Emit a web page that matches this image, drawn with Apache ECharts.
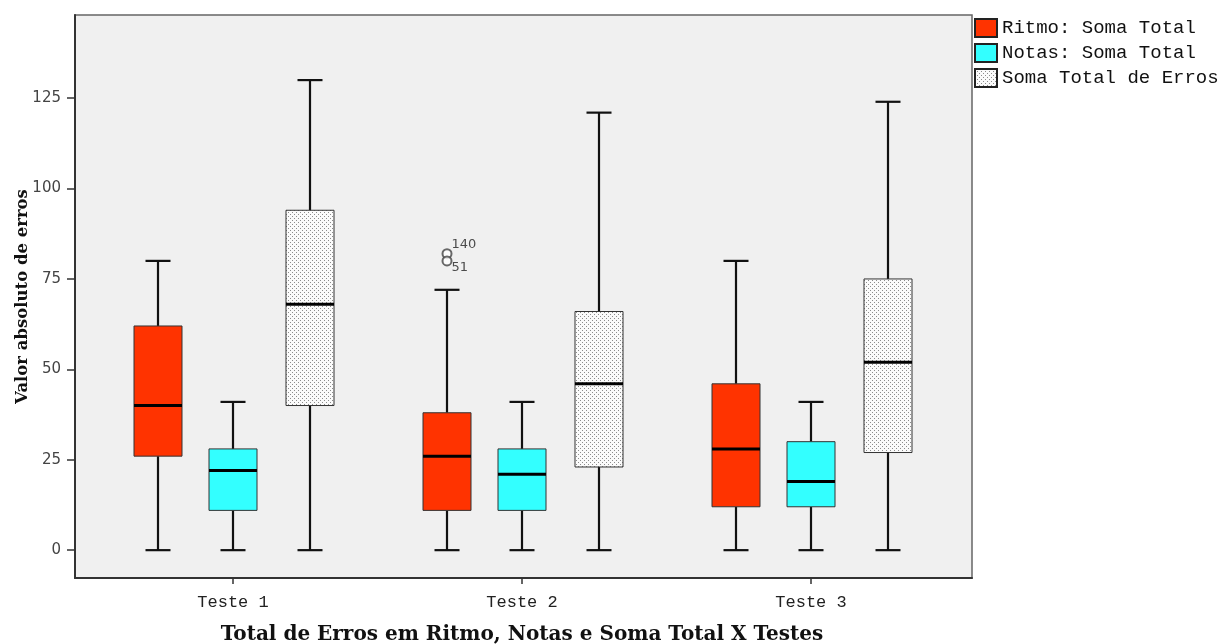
<!DOCTYPE html>
<html>
<head>
<meta charset="utf-8">
<script src="https://cdn.jsdelivr.net/npm/echarts@6/dist/echarts.min.js"></script>
<style>html,body{margin:0;padding:0;background:#fff;}#c{width:1222px;height:644px;}</style>
</head>
<body>
<div id="c"></div>
<script>
// ---- data ----
const categories = ['Teste 1', 'Teste 2', 'Teste 3'];
const seriesNames = ['Ritmo: Soma Total', 'Notas: Soma Total', 'Soma Total de Erros'];
// [categoryIndex, min, Q1, median, Q3, max]
const ritmo = [[0, 0, 26, 40, 62, 80], [1, 0, 11, 26, 38, 72], [2, 0, 12, 28, 46, 80]];
const notas = [[0, 0, 11, 22, 28, 41], [1, 0, 11, 21, 28, 41], [2, 0, 12, 19, 30, 41]];
const somaTotal = [[0, 0, 40, 68, 94, 130], [1, 0, 23, 46, 66, 121], [2, 0, 27, 52, 75, 124]];
// outliers: [categoryIndex, value, case label]
const ritmoOutliers = [[1, 82, '140'], [1, 80, '51']];
const yTicks = [0, 25, 50, 75, 100, 125];

// ---- styles ----
const pat = document.createElement('canvas');
pat.width = 4; pat.height = 4;
const pc = pat.getContext('2d');
pc.fillStyle = '#fbfbfb'; pc.fillRect(0, 0, 4, 4);
pc.fillStyle = '#8c8c8c'; pc.fillRect(0, 0, 1, 1); pc.fillRect(2, 2, 1, 1);
const stipple = { image: pat, repeat: 'repeat' };
const fills = ['#FF3300', '#33FFFF', stipple];
const offsets = [-75, 0, 77];
const BOX_W = 48, CAP_W = 25;
const Y_MIN = -7.7, Y_MAX = 148;

function makeRender(offset, fill) {
  return function (params, api) {
    const c = api.value(0);
    const x = api.coord([c, 0])[0] + offset;
    const y = (v) => api.coord([c, v])[1];
    const yMin = y(api.value(1)), yQ1 = y(api.value(2)), yMed = y(api.value(3)),
          yQ3 = y(api.value(4)), yMax = y(api.value(5));
    const hw = BOX_W / 2, cw = CAP_W / 2;
    const lineStyle = { stroke: '#111', lineWidth: 2.2 };
    return {
      type: 'group',
      children: [
        { type: 'line', shape: { x1: x, y1: yMin, x2: x, y2: yQ1 }, style: lineStyle },
        { type: 'line', shape: { x1: x, y1: yQ3, x2: x, y2: yMax }, style: lineStyle },
        { type: 'line', shape: { x1: x - cw, y1: yMin, x2: x + cw, y2: yMin }, style: lineStyle },
        { type: 'line', shape: { x1: x - cw, y1: yMax, x2: x + cw, y2: yMax }, style: lineStyle },
        { type: 'rect', shape: { x: x - hw, y: yQ3, width: BOX_W, height: yQ1 - yQ3 },
          style: { fill: fill, stroke: '#333', lineWidth: 1 } },
        { type: 'line', shape: { x1: x - hw, y1: yMed, x2: x + hw, y2: yMed },
          style: { stroke: '#000', lineWidth: 3 } }
      ]
    };
  };
}

const dataSets = [ritmo, notas, somaTotal];
const series = dataSets.map((d, i) => ({
  name: seriesNames[i],
  type: 'custom',
  xAxisIndex: 1, yAxisIndex: 1,
  data: d,
  encode: { x: 0, y: [1, 2, 3, 4, 5] },
  itemStyle: { color: fills[i], borderColor: '#222', borderWidth: 1 },
  renderItem: makeRender(offsets[i], fills[i])
}));
series.push({
  name: 'outliers',
  type: 'scatter',
  xAxisIndex: 1, yAxisIndex: 1,
  data: ritmoOutliers,
  symbol: 'emptyCircle',
  symbolSize: 9,
  symbolOffset: [offsets[0], 0],
  itemStyle: { color: '#444', borderWidth: 1.3 },
  label: {
    show: true,
    position: 'right',
    fontFamily: 'DejaVu Sans', fontSize: 13, color: '#222',
    formatter: (p) => p.value[2]
  },
  labelLayout: (p) => ({ dx: -6, dy: p.dataIndex === 0 ? -9 : 7 }),
  emphasis: { disabled: true }
});

const chart = echarts.init(document.getElementById('c'), null, { renderer: 'canvas' });
chart.setOption({
  animation: false,
  backgroundColor: '#fff',
  grid: [
    { left: 75, top: 15, width: 897, bottom: 66, show: true, backgroundColor: '#f0f0f0',
      borderColor: '#666', borderWidth: 1.5, outerBoundsMode: 'none', containLabel: false },
    { left: 88.5, top: 15, width: 867, bottom: 66, outerBoundsMode: 'none', containLabel: false }
  ],
  legend: {
    data: seriesNames,
    orient: 'vertical',
    left: 974, top: 18, padding: 0,
    itemWidth: 22, itemHeight: 18, itemGap: 5,
    icon: 'rect',
    textStyle: { fontFamily: 'Liberation Mono', fontSize: 19, color: '#111' },
    selectedMode: false
  },
  xAxis: [
    { gridIndex: 0, type: 'value', min: 0, max: 1, show: true,
      axisLine: { show: true, onZero: false, lineStyle: { color: '#333', width: 2 } },
      axisTick: { show: false }, axisLabel: { show: false }, splitLine: { show: false } },
    { gridIndex: 1, type: 'category', data: categories, position: 'bottom',
      axisLine: { show: false, onZero: false },
      axisTick: { show: true, alignWithLabel: true, length: 6, lineStyle: { color: '#333', width: 1.5 } },
      axisLabel: { margin: 16, fontFamily: 'Liberation Mono', fontSize: 17, color: '#222' },
      name: 'Total de Erros em Ritmo, Notas e Soma Total X Testes',
      nameLocation: 'middle', nameGap: 47,
      nameTextStyle: { fontFamily: 'DejaVu Serif', fontWeight: 'bold', fontSize: 20, color: '#111' } }
  ],
  yAxis: [
    { gridIndex: 0, type: 'value', min: Y_MIN, max: Y_MAX,
      axisLine: { show: true, onZero: false, lineStyle: { color: '#333', width: 2 } },
      axisTick: { show: true, length: 8, customValues: yTicks, lineStyle: { color: '#333', width: 1.5 } },
      axisLabel: { customValues: yTicks, margin: 14, fontFamily: 'DejaVu Sans', fontSize: 15, color: '#444' },
      splitLine: { show: false },
      name: 'Valor absoluto de erros',
      nameLocation: 'middle', nameGap: 44, nameRotate: 90, nameMoveOverlap: false,
      nameTextStyle: { fontFamily: 'DejaVu Serif', fontWeight: 'bold', fontSize: 16.5, color: '#111' } },
    { gridIndex: 1, type: 'value', min: Y_MIN, max: Y_MAX, show: false, splitLine: { show: false } }
  ],
  series: series
});
</script>
</body>
</html>
